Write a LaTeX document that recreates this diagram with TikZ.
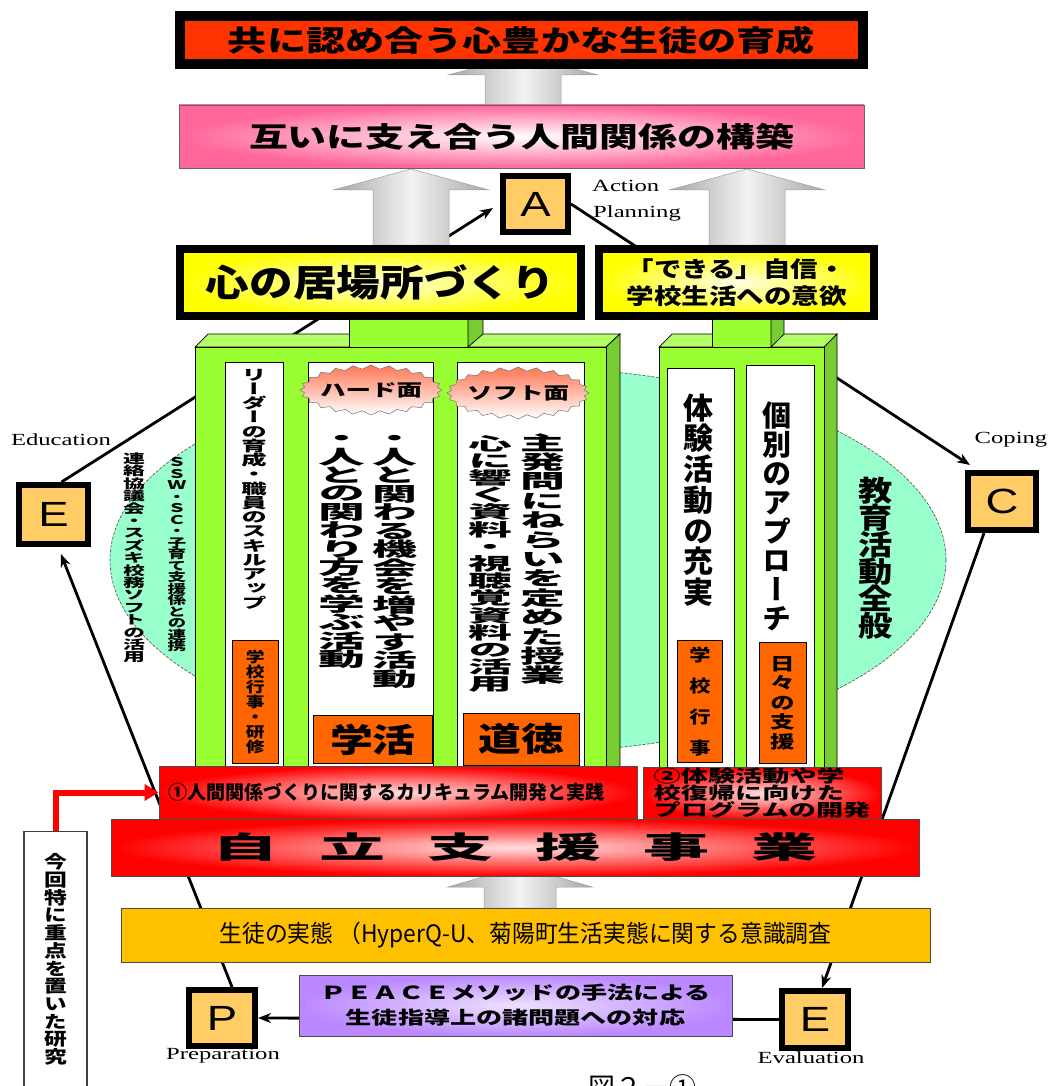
\documentclass[tikz,border=0pt]{standalone}
\usepackage{fontspec}
\setmainfont{Noto Sans CJK JP}
\usetikzlibrary{arrows.meta,calc}
\pgfdeclarelayer{bg}
\pgfsetlayers{bg,main}
\newfontfamily\lser[FakeStretch=1.45]{Liberation Serif}
\newfontfamily\lsan[FakeStretch=1.3]{Liberation Sans}
\newcommand\jx[1]{\fontspec[FakeStretch=#1]{Noto Sans CJK JP}}
\newcommand\jv[1]{\fontspec[FakeStretch=#1,RawFeature=+vert]{Noto Sans CJK JP}}
\newcommand\hf[3]{\jx{#1}\bfseries\fontsize{#2}{#3}\selectfont\lineskiplimit=-100pt\relax}
\newcommand\vf[3]{\jv{#1}\bfseries\fontsize{#2}{#3}\selectfont\lineskiplimit=-100pt\relax}
\ExplSyntaxOn
\seq_new:N \l_vtchars_seq
\NewDocumentCommand\vt{m}{
  \seq_clear:N \l_vtchars_seq
  \tl_map_inline:nn {#1} { \seq_put_right:Nn \l_vtchars_seq {##1} }
  \seq_use:Nn \l_vtchars_seq {\\}
}
\ExplSyntaxOff
\definecolor{titlered}{HTML}{FF3300}
\definecolor{pinkc}{HTML}{FF6699}
\definecolor{boxorange}{HTML}{FFCC66}
\definecolor{gfront}{HTML}{99FF33}
\definecolor{gtop}{HTML}{B3FF66}
\definecolor{gside}{HTML}{77CC33}
\definecolor{cyanc}{HTML}{99FFCC}
\definecolor{orangec}{HTML}{FF6600}
\definecolor{surveyc}{HTML}{FFC000}
\definecolor{purplec}{HTML}{BB88FF}
\definecolor{cloudc}{HTML}{FF7755}
\tikzset{
  link/.style={line width=2.8pt, black, -{Stealth[length=13pt,width=10pt]}},
  col/.style={draw=black, fill=white, line width=0.8pt, inner sep=0pt},
  orng/.style={draw=black, fill=orangec, line width=0.8pt, inner sep=0pt, align=center},
  vtx/.style={align=center, inner sep=0pt},
  letterbox/.style={draw=black, line width=6pt, fill=boxorange, inner sep=0pt, font=\lsan\fontsize{35}{35}\selectfont},
  grayarr/.style={left color=gray!70, right color=gray!70, middle color=gray!10, draw=gray!75, line width=0.5pt},
  redbox/.style={draw=black!70, line width=0.8pt, inner color=red!12, outer color=red, inner sep=0pt},
  sealshape/.style={draw=black!55, line width=0.5pt, top color=cloudc, bottom color=white},
  pdcalabel/.style={font=\lser\fontsize{17}{17}\selectfont, inner sep=0pt},
  gface/.style={draw=black, line width=0.7pt}
}
\newcommand\grayup[6]{%
  \path[grayarr] ({#1-#6},#4) -- ({#1-#6},#3) -- ({#1-#5},#3) -- (#1,#2) -- ({#1+#5},#3) -- ({#1+#6},#3) -- ({#1+#6},#4) -- cycle;}
% jagged seal: cx, cy, rx, ry
\newcommand\sealpath[4]{%
  \path[sealshape] plot[variable=\t, samples=49, domain=0:48] ({#1+(#3-4*mod(\t,2))*cos(\t*7.5)}, {#2+(#4-4*mod(\t,2))*sin(\t*7.5)}) -- cycle;}
\begin{document}
\begin{tikzpicture}[x=1pt,y=-1pt]
\useasboundingbox (0,0) rectangle (1050,1086);

% ---------- green blocks ----------
\fill[gtop, gface] (195,347) -- (208,334) -- (620,334) -- (606,347) -- cycle;
\fill[gside, gface] (606,347) -- (620,334) -- (620,770) -- (606,770) -- cycle;
\fill[gfront, gface] (195,347) rectangle (606,770);
\fill[gfront, gface] (349,319) rectangle (468,347);
\fill[gside, gface] (468,347) -- (483,334) -- (483,319) -- (468,319) -- cycle;

\fill[gtop, gface] (659,347) -- (672,334) -- (837,334) -- (824,347) -- cycle;
\fill[gside, gface] (824,347) -- (837,334) -- (837,770) -- (824,770) -- cycle;
\fill[gfront, gface] (659,347) rectangle (824,770);
\fill[gfront, gface] (712,319) rectangle (771,347);
\fill[gside, gface] (771,347) -- (784,334) -- (784,319) -- (771,319) -- cycle;

% ---------- columns ----------
\node[col, minimum width=58, minimum height=405, anchor=north west] (col1) at (225,362) {};
\node[col, minimum width=125, minimum height=405, anchor=north west] (col2) at (308,362) {};
\node[col, minimum width=127, minimum height=405, anchor=north west] (col3) at (457,362) {};
\node[col, minimum width=67, minimum height=399, anchor=north west] (col4) at (667,368) {};
\node[col, minimum width=68, minimum height=402, anchor=north west] (col5) at (746,365) {};

\node[orng, minimum width=46, minimum height=123, anchor=north west, font=\vf{1.3}{14.5}{15}] (o1) at (232,640) {\vt{学校行事・研修}};
\node[orng, minimum width=119, minimum height=48, anchor=north west, font=\hf{1.3}{33}{33}] (o2) at (313,715) {学活};
\node[orng, minimum width=116, minimum height=52, anchor=north west, font=\hf{1.3}{33}{33}] (o3) at (463,713) {道徳};
\node[orng, minimum width=45, minimum height=122, anchor=north west, font=\vf{1.25}{17}{31}] (o4) at (677,640) {\vt{学校行事}};
\node[orng, minimum width=47, minimum height=121, anchor=north west, font=\vf{1.4}{17.5}{19.5}] (o5) at (759,642) {\vt{日々の支援}};

\sealpath{371}{390}{71}{25}
\sealpath{518}{393}{71}{26}
\node[inner sep=0pt, font=\hf{1.5}{17}{17}] (hard) at (371,390) {ハード面};
\node[inner sep=0pt, font=\hf{1.5}{17}{17}] (soft) at (518,393) {ソフト面};

\node[vtx, font=\vf{1.75}{14.5}{14.25}] (t1) at (254,489) {\vt{リーダーの育成・職員のスキルアップ}};
\node[vtx, font=\vf{2.3}{19.5}{18.5}] (t2a) at (395,562) {\vt{・人と関わる機会を増やす活動}};
\node[vtx, font=\vf{2.4}{19.5}{18.4}] (t2b) at (342,552) {\vt{・人との関わり方を学ぶ活動}};
\node[vtx, font=\vf{2.3}{19.5}{19.4}] (t3a) at (543,559) {\vt{主発問にねらいを定めた授業}};
\node[vtx, font=\vf{2.5}{17.5}{17.2}] (t3b) at (490,564) {\vt{心に響く資料・視聴覚資料の活用}};
\node[vtx, font=\vf{1.0}{30}{30.7}] (t4) at (698,500) {\vt{体験活動の充実}};
\node[vtx, font=\vf{1.0}{29}{29}] (t5) at (777,516) {\vt{個別のアプローチ}};

\node[vtx, font=\vf{1.2}{28.5}{27}] (kyoiku) at (876,558) {\vt{教育活動全般}};
\node[vtx, font=\vf{1.55}{12}{11.5}] (ell1) at (177,555) {\vt{ＳＳＷ・ＳＣ・子育て支援係との連携}};
\node[vtx, font=\vf{1.75}{12.5}{12.4}] (ell2) at (134,558) {\vt{連絡協議会・スズキ校務ソフトの活用}};

% ---------- upper boxes ----------
\node[draw=black, line width=10pt, fill=titlered, minimum width=683, minimum height=48, inner sep=0pt, font=\hf{1.35}{29}{29}] (title) at (521.5,40) {共に認め合う心豊かな生徒の育成};
\node[draw=black!60, line width=0.8pt, inner color=white, outer color=pinkc, minimum width=685, minimum height=63, inner sep=0pt, font=\hf{1.39}{28}{28}] (pink) at (521.5,136.5) {互いに支え合う人間関係の構築};
\node[draw=black, line width=8pt, inner color=yellow!15, outer color=yellow, minimum width=401, minimum height=67, inner sep=0pt, font=\hf{1.18}{37}{37}] (yel1) at (380.5,282.5) {心の居場所づくり};
\node[draw=black, line width=8pt, inner color=yellow!10, outer color=yellow, minimum width=275, minimum height=67, inner sep=0pt, align=left, font=\hf{1.25}{22}{27}] (yel2) at (736.5,282.5) {「できる」自信・\\学校生活への意欲};

\node[letterbox, minimum width=65, minimum height=56] (A) at (535.5,204) {A};
\node[pdcalabel, anchor=west] (actlab) at (592,186) {Action};
\node[pdcalabel, anchor=west] (planlab) at (593,213) {Planning};

\node[letterbox, minimum width=69, minimum height=59] (E1) at (53.5,514.5) {E};
\node[pdcalabel] (edulab) at (61,440) {Education};
\node[letterbox, minimum width=68, minimum height=57] (C) at (1002,501.5) {C};
\node[pdcalabel] (coplab) at (1011,440) {Coping};

% ---------- lower boxes ----------
\node[redbox, minimum width=478, minimum height=53, text width=460, align=left, font=\hf{1.0}{19}{19}] (c1) at (398,792.5) {①人間関係づくりに関するカリキュラム開発と実践};
\node[redbox, minimum width=238, minimum height=53, align=left, font=\hf{1.6}{17}{17}] (c2) at (762,793.5) {②体験活動や学\\校復帰に向けた\\プログラムの開発};
\node[redbox, minimum width=808, minimum height=57, font=\hf{2.2}{30}{30}] (jiritsu) at (515,847.5) {自\hspace{42pt}立\hspace{42pt}支\hspace{42pt}援\hspace{42pt}事\hspace{42pt}業};
\node[draw=black!70, line width=0.8pt, fill=surveyc, minimum width=809, minimum height=54, inner sep=0pt, font=\jx{0.95}\fontsize{24}{24}\selectfont] (survey) at (525.5,935) {生徒の実態\ （HyperQ-U、菊陽町生活実態に関する意識調査};
\node[draw=black!70, line width=0.8pt, inner color=purplec!25, outer color=purplec, minimum width=433, minimum height=61, inner sep=0pt, align=center, font=\hf{1.45}{18}{25}] (peace) at (515.5,1005.5) {ＰＥＡＣＥメソッドの手法による\\生徒指導上の諸問題への対応};

\node[letterbox, minimum width=66, minimum height=56] (P) at (222,1018) {P};
\node[pdcalabel] (preplab) at (223,1056) {Preparation};
\node[letterbox, minimum width=66, minimum height=57] (E2) at (815,1019.5) {E};
\node[pdcalabel] (evallab) at (811,1058) {Evaluation};

\node[draw=black!75, line width=1.2pt, fill=white, minimum width=63, minimum height=270, anchor=north, inner sep=0pt] (konbox) at (55.5,831) {};
\node[vtx, font=\vf{1.3}{17.5}{17.7}] (kontext) at (55.5,959.5) {\vt{今回特に重点を置いた研究}};
\draw[line width=6pt, red, -{Triangle[length=14pt,width=16pt]}] (konbox.north) |- (c1.west);

\node[anchor=north west, inner sep=0pt, font=\jx{1.0}\fontsize{27}{27}\selectfont] (caption) at (588,1074) {図２－①};

% ---------- background layer ----------
\begin{pgfonlayer}{bg}
\fill[cyanc, draw=black!70, line width=0.6pt, dash pattern=on 3pt off 1.5pt] (528,560) ellipse [x radius=418, y radius=192];
\draw[link, shorten >=1pt] ($(P.north)+(10,0)$) -- ($(E1.south)+(7,6)$);
\draw[link] ($(E1.north)+(8,0)$) -- ($(A.west)+(-7,4)$);
\draw[link] (A.east) -- ($(C.north west)+(5,-5)$);
\draw[link] ($(C.south)+(-18,0)$) -- ($(E2.north)+(7,0)$);
\draw[link] (E2.west) -- (P.east);
\grayup{523}{55}{75}{105}{75}{38}
\grayup{411}{169}{190}{245}{78}{38}
\grayup{747}{169}{190}{245}{78}{38}
\grayup{520}{866}{887}{908}{72}{36}
\end{pgfonlayer}
\end{tikzpicture}
\end{document}
